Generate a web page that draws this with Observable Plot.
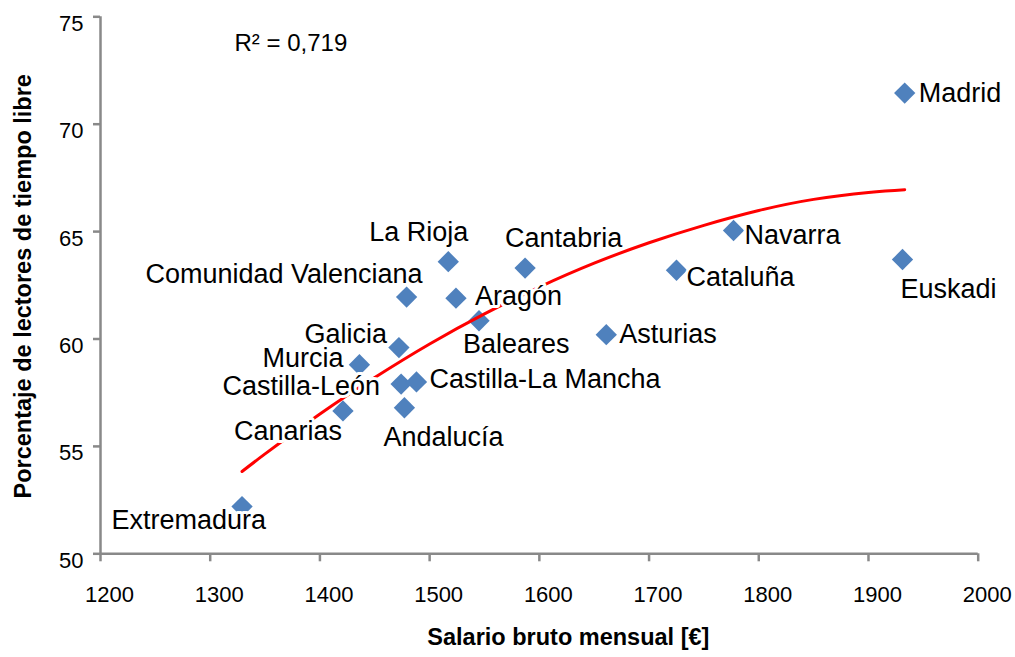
<!DOCTYPE html>
<html>
<head>
<meta charset="utf-8">
<script src="https://cdn.jsdelivr.net/npm/d3@7"></script>
<script src="https://cdn.jsdelivr.net/npm/@observablehq/plot@0.6"></script>
<style>
  html, body { margin: 0; padding: 0; background: #fff; }
  svg { display: block; }
</style>
</head>
<body>
<div id="chart"></div>
<script>
// ---- data ----
const regions = ["Madrid", "Navarra", "Cataluña", "Euskadi", "Asturias", "Cantabria", "La Rioja",
  "Comunidad Valenciana", "Aragón", "Baleares", "Galicia", "Murcia", "Castilla-León",
  "Castilla-La Mancha", "Andalucía", "Canarias", "Extremadura"];
const salario = [1933, 1777, 1725, 1931, 1661, 1587, 1517, 1479, 1524, 1545, 1472, 1436, 1474, 1488, 1477, 1421, 1329];
const lectores = [71.45, 65.05, 63.2, 63.7, 60.2, 63.3, 63.6, 61.95, 61.9, 60.85, 59.6, 58.8, 57.9, 58.0, 56.8, 56.65, 52.2];

// trend line (polynomial)
const trendSalario = [1329, 1350, 1400, 1450, 1500, 1550, 1600, 1650, 1700, 1750, 1800, 1850, 1900, 1933];
const trendLectores = [53.83, 54.65, 56.51, 58.21, 59.77, 61.17, 62.42, 63.53, 64.48, 65.29, 65.98, 66.5, 66.82, 66.95];

const xTicks = [1200, 1300, 1400, 1500, 1600, 1700, 1800, 1900, 2000];
const yTicks = [50, 55, 60, 65, 70, 75];

const r2Text = "R² = 0,719";
const xTitle = "Salario bruto mensual [€]";
const yTitle = "Porcentaje de lectores de tiempo libre";

// ---- label layout (per point, same order as regions) ----
const labelLayout = [
  {a: "start", dx: 14, dy: 0},    // Madrid
  {a: "start", dx: 11, dy: 5},    // Navarra
  {a: "start", dx: 10, dy: 7},    // Cataluña
  {a: "start", dx: -2, dy: 30},   // Euskadi
  {a: "start", dx: 13, dy: 0},    // Asturias
  {a: "start", dx: -20, dy: -30}, // Cantabria
  {a: "end", dx: 20, dy: -29},    // La Rioja
  {a: "end", dx: 16, dy: -23},    // Comunidad Valenciana
  {a: "start", dx: 19, dy: -2},   // Aragón
  {a: "start", dx: -16, dy: 24},  // Baleares
  {a: "end", dx: -12, dy: -13},   // Galicia
  {a: "end", dx: -16, dy: -6},    // Murcia
  {a: "end", dx: -21, dy: 2},     // Castilla-León
  {a: "start", dx: 13, dy: -3},   // Castilla-La Mancha
  {a: "start", dx: -21, dy: 30},  // Andalucía
  {a: "end", dx: -1, dy: 20},     // Canarias
  {a: "end", dx: 24, dy: 14}      // Extremadura
];

const points = regions.map((name, i) => ({name, x: salario[i], y: lectores[i]}));
const trend = trendSalario.map((x, i) => ({x, y: trendLectores[i]}));

const axisGray = "#898989";
const font = "'Liberation Sans', Arial, sans-serif";

const labelMarks = points.map((p, i) => Plot.text([p], {
  x: "x", y: "y", text: "name",
  textAnchor: labelLayout[i].a, lineAnchor: "middle",
  dx: labelLayout[i].dx, dy: labelLayout[i].dy,
  fontSize: 27, fill: "#000",
  stroke: "white", strokeWidth: 6, strokeLinejoin: "round", paintOrder: "stroke"
}));

const chart = Plot.plot({
  width: 1015,
  height: 657,
  marginLeft: 100,
  marginRight: 37.3,
  marginTop: 16.3,
  marginBottom: 103.7,
  style: {fontFamily: font, fontSize: "22px", background: "white", color: "#000"},
  x: {domain: [1200, 2000]},
  y: {domain: [50, 75]},
  marks: [
    // axis ticks (no text)
    Plot.axisX({ticks: xTicks, tickSize: 8, tickFormat: () => "", stroke: axisGray, strokeWidth: 2.5, label: null}),
    Plot.axisY({ticks: yTicks, tickSize: 7, tickFormat: () => "", stroke: axisGray, strokeWidth: 2.5, label: null}),
    // axis lines
    Plot.ruleY([50], {stroke: axisGray, strokeWidth: 2.5}),
    Plot.ruleX([1200], {stroke: axisGray, strokeWidth: 2.5}),
    // tick labels
    Plot.text(xTicks, {x: d => d, frameAnchor: "bottom", lineAnchor: "middle", textAnchor: "middle", dy: 41, dx: 9, text: d => String(d), fontSize: 22, fill: "#000"}),
    Plot.text(yTicks, {y: d => d, frameAnchor: "left", lineAnchor: "middle", dx: -17, dy: 7, textAnchor: "end", text: d => String(d), fontSize: 22, fill: "#000"}),
    // points
    Plot.dot(points, {x: "x", y: "y", symbol: "diamond2", r: 9.6, fill: "#4F81BD", stroke: "none"}),
    // trend line
    Plot.line(trend, {x: "x", y: "y", stroke: "#FF0000", strokeWidth: 3, curve: "natural"}),
    // labels
    ...labelMarks,
    // R²
    Plot.text([r2Text], {frameAnchor: "top-left", lineAnchor: "middle", dx: 134, dy: 27, textAnchor: "start", fontSize: 24, fill: "#000"}),
    // axis titles
    Plot.text([xTitle], {frameAnchor: "bottom", lineAnchor: "middle", textAnchor: "middle", dx: 29, dy: 84, fontSize: 23.5, fontWeight: "bold", fill: "#000"}),
    Plot.text([yTitle], {frameAnchor: "left", lineAnchor: "middle", textAnchor: "middle", dx: -77.5, dy: 1, rotate: -90, fontSize: 23.5, fontWeight: "bold", fill: "#000"})
  ]
});

document.getElementById("chart").appendChild(chart);
</script>
</body>
</html>
